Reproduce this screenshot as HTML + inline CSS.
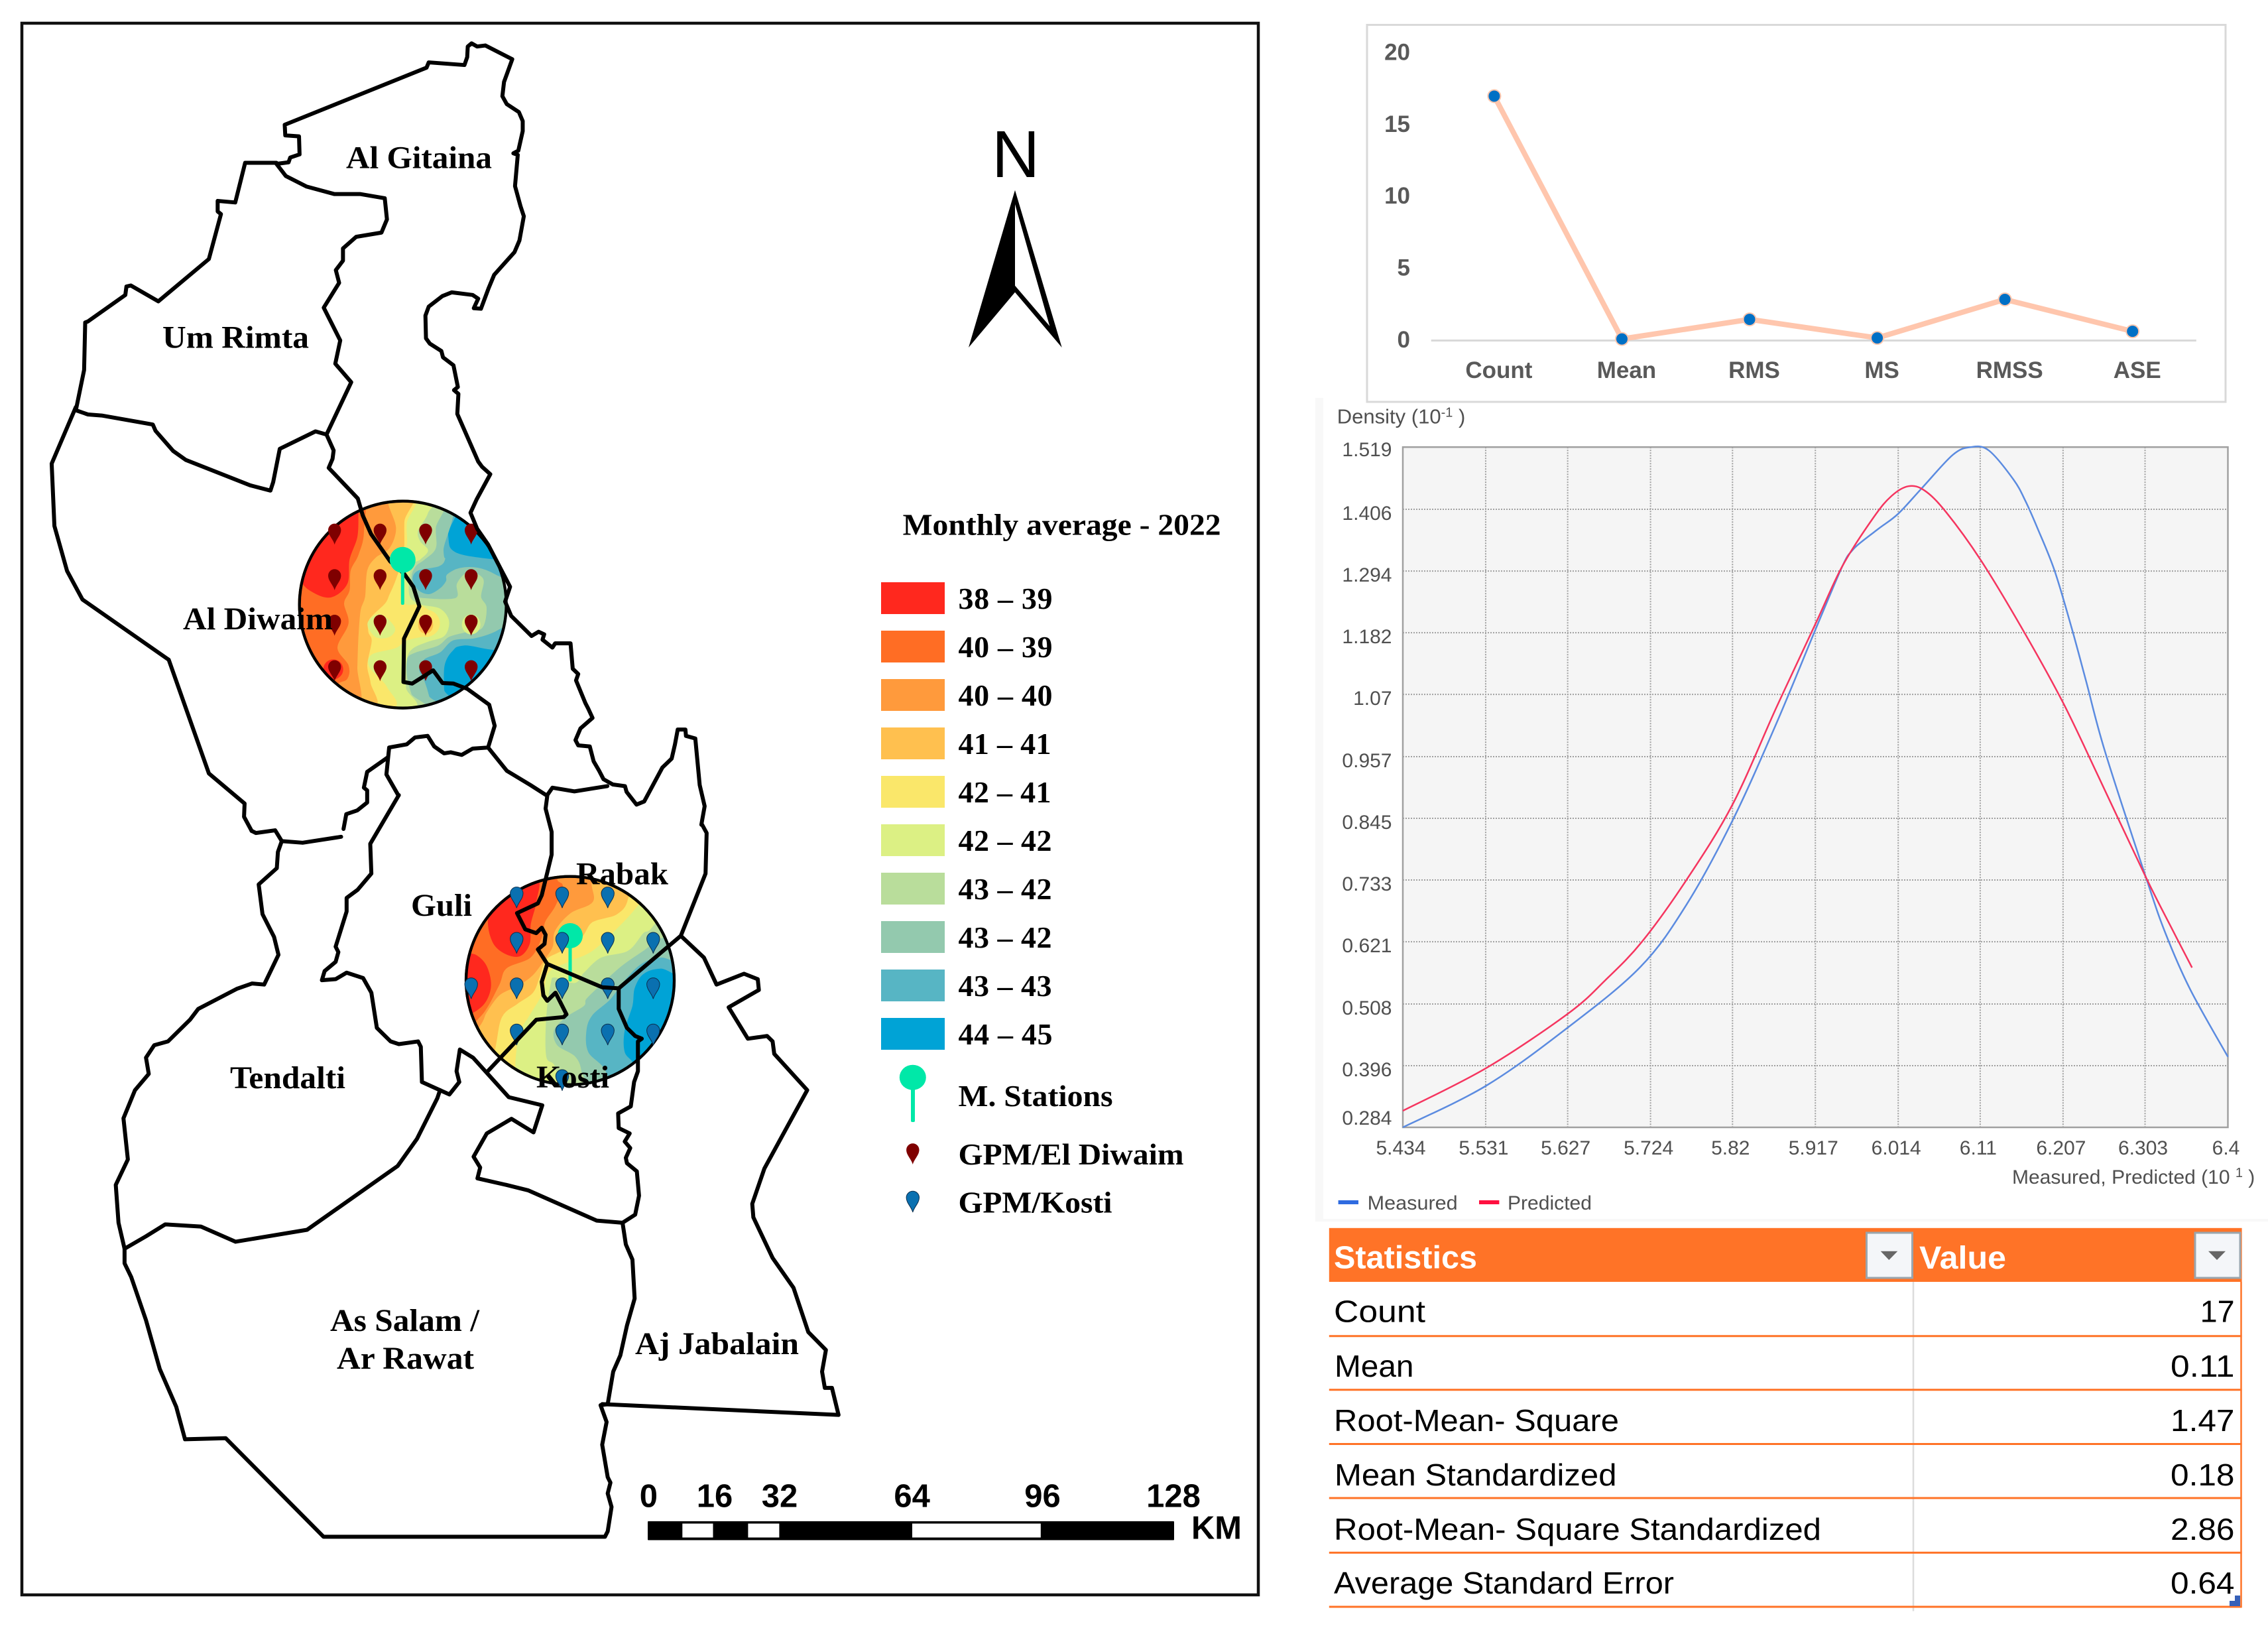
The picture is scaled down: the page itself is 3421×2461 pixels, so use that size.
<!DOCTYPE html>
<html lang="en">
<head>
<meta charset="utf-8">
<title>Monthly average 2022 map and validation statistics</title>
<style>
html,body{margin:0;padding:0;background:#fff;}
svg{display:block;}
.b{fill:none;stroke:#000;stroke-width:6;stroke-linejoin:round;stroke-linecap:round;vector-effect:non-scaling-stroke;}
.lab{font-family:"Liberation Serif",serif;font-weight:bold;font-size:48px;fill:#000;}
.leg{font-family:"Liberation Serif",serif;font-weight:bold;font-size:46px;fill:#000;}
.sb{font-family:"Liberation Sans",sans-serif;font-weight:bold;font-size:49px;fill:#000;text-anchor:middle;}
.c1{font-family:"Liberation Sans",sans-serif;font-weight:bold;font-size:35px;fill:#595959;}
.c2{font-family:"Liberation Sans",sans-serif;font-size:30px;fill:#505050;}
.tb{font-family:"Liberation Sans",sans-serif;font-size:46px;fill:#000;}
.th{font-family:"Liberation Sans",sans-serif;font-size:48px;font-weight:bold;fill:#fff;}
</style>
</head>
<body>
<svg id="root" xmlns="http://www.w3.org/2000/svg" width="3421" height="2461" viewBox="0 0 3421 2461">
<defs>
<clipPath id="clipA"><circle cx="623" cy="575" r="474"/></clipPath>
<clipPath id="clipB"><circle cx="540" cy="536" r="477"/></clipPath>
<path id="pin" d="M0,22 C-2,14 -9.7,8 -9.7,0 A9.7,9.7 0 1 1 9.7,0 C9.7,8 2,14 0,22Z"/>
</defs>
<rect width="3421" height="2461" fill="#fff"/>
<rect x="33" y="35" width="1865" height="2370" fill="#fff" stroke="#111" stroke-width="4.5"/>

<!-- Diwaim interpolation circle -->
<g transform="translate(400,720) scale(0.33333)">
<g clip-path="url(#clipA)" stroke-width="4" stroke-linejoin="round">
<rect x="100" y="50" width="1050" height="1050" fill="#00a3d6"/>
<polygon fill="#57b5c4" stroke="#57b5c4" points="100,50 830,50 826,260 860,340 1030,372 1120,372 1120,750 900,758 845,785 810,850 808,960 818,1050 100,1050"/>
<polygon fill="#93c9ae" stroke="#93c9ae" points="100,50 800,50 805,330 812,370 785,400 690,420 665,460 690,510 740,530 790,505 820,470 825,440 880,412 960,410 1040,440 1100,490 1100,640 1050,690 950,725 850,735 790,790 720,820 695,870 720,925 740,990 750,1050 100,1050"/>
<polygon fill="#b9dd9b" stroke="#b9dd9b" points="100,50 775,50 770,230 770,320 720,370 680,400 660,450 670,530 690,545 860,548 870,480 920,430 985,460 975,540 1000,590 980,680 900,700 830,720 780,760 680,790 640,820 640,900 660,980 690,1050 100,1050"/>
<polygon fill="#dcf084" stroke="#dcf084" points="100,50 745,50 735,160 690,240 700,290 735,330 700,370 660,400 650,530 700,575 790,595 830,650 810,715 740,740 670,770 640,820 635,950 650,1050 100,1050"/>
<polygon fill="#fae76a" stroke="#fae76a" points="100,50 680,50 680,120 640,200 640,300 625,370 625,560 700,578 760,620 770,670 740,710 640,735 590,770 480,800 470,860 550,950 560,1050 100,1050"/>
<polygon fill="#ffc04f" stroke="#ffc04f" points="100,50 640,50 628,200 625,340 590,460 560,530 540,570 470,640 465,700 480,740 460,850 475,930 480,1050 100,1050"/>
<polygon fill="#ff9a3c" stroke="#ff9a3c" points="100,50 555,50 555,120 590,230 560,320 500,360 460,420 450,540 430,600 420,720 415,860 410,1050 100,1050"/>
<polygon fill="#ff6d24" stroke="#ff6d24" points="100,50 420,50 445,240 420,350 385,420 380,510 355,570 375,660 325,770 375,850 370,910 320,940 260,1050 100,1050"/>
<polygon fill="#ff281e" stroke="#ff281e" points="420,100 420,165 415,270 380,370 370,480 300,540 220,520 160,460 120,300 300,100"/>
<circle cx="308" cy="868" r="45" fill="#ff281e"/>
<polygon fill="#dcf084" stroke="#dcf084" points="465,660 520,620 585,680 560,720 500,720"/>
<ellipse cx="726" cy="660" rx="65" ry="62" fill="#fae76a"/>
<ellipse cx="726" cy="668" rx="34" ry="38" fill="#ffc04f"/>
<ellipse cx="932" cy="665" rx="42" ry="45" fill="#dcf084"/>
</g>
<circle cx="623" cy="575" r="468" fill="none" stroke="#000" stroke-width="13"/>
</g>

<!-- Kosti interpolation circle -->
<g transform="translate(680,1300) scale(0.33333)">
<g clip-path="url(#clipB)" stroke-width="4" stroke-linejoin="round">
<rect x="0" y="0" width="1100" height="1100" fill="#00a3d6"/>
<polygon fill="#57b5c4" stroke="#57b5c4" points="0,0 1100,0 1100,490 950,480 870,505 830,570 820,650 785,760 785,860 830,930 830,1100 0,1100"/>
<polygon fill="#93c9ae" stroke="#93c9ae" points="0,0 1100,0 1100,430 950,430 860,460 780,540 720,620 640,690 612,760 620,860 700,950 700,1100 0,1100"/>
<polygon fill="#b9dd9b" stroke="#b9dd9b" points="0,0 1100,0 1100,330 960,340 870,400 770,470 660,570 610,620 600,650 520,700 465,760 480,830 560,880 590,950 600,1100 0,1100"/>
<polygon fill="#dcf084" stroke="#dcf084" points="0,0 1100,0 920,280 870,320 800,400 680,430 600,500 560,545 470,520 450,550 430,700 430,880 470,930 480,1100 0,1100"/>
<polygon fill="#fae76a" stroke="#fae76a" points="0,0 1000,0 850,190 760,290 640,400 530,450 440,500 415,590 350,700 310,770 290,910 290,1100 0,1100"/>
<polygon fill="#ffc04f" stroke="#ffc04f" points="0,0 800,0 800,165 750,235 640,270 590,340 500,400 430,440 400,520 370,590 300,640 230,700 200,840 150,1100 0,1100"/>
<polygon fill="#ff9a3c" stroke="#ff9a3c" points="0,0 635,0 635,100 640,180 540,230 470,310 460,380 430,430 370,510 300,560 220,600 160,680 130,740 0,900"/>
<polygon fill="#ff6d24" stroke="#ff6d24" points="0,0 480,0 480,80 505,110 470,200 425,270 410,340 360,430 250,480 215,560 130,700 0,760"/>
<polygon fill="#ff281e" stroke="#ff281e" points="170,260 190,360 240,410 310,425 355,370 360,280 385,180 385,70 200,90"/>
<polygon fill="#ff281e" stroke="#ff281e" points="60,420 110,420 160,470 180,560 150,640 80,690 30,690 30,420"/>
</g>
<circle cx="540" cy="536" r="471" fill="none" stroke="#000" stroke-width="13"/>
</g>

<!-- GPM pins Diwaim -->
<g fill="#7f0000">
<use href="#pin" x="504.7" y="799.3"/><use href="#pin" x="573.3" y="799.3"/><use href="#pin" x="642" y="799.3"/><use href="#pin" x="710.7" y="799.3"/>
<use href="#pin" x="504.7" y="868"/><use href="#pin" x="573.3" y="868"/><use href="#pin" x="642" y="868"/><use href="#pin" x="710.7" y="868"/>
<use href="#pin" x="504.7" y="936.7"/><use href="#pin" x="573.3" y="936.7"/><use href="#pin" x="642" y="936.7"/><use href="#pin" x="710.7" y="936.7"/>
<use href="#pin" x="504.7" y="1005.3"/><use href="#pin" x="573.3" y="1005.3"/><use href="#pin" x="642" y="1005.3"/><use href="#pin" x="710.7" y="1005.3"/>
</g>

<!-- Station Kosti -->
<g fill="#00e8a8">
<circle cx="860" cy="1411" r="19"/>
<rect x="857.5" y="1420" width="5" height="60" rx="2"/>
</g>

<!-- GPM pins Kosti -->
<g fill="#0a70b0" stroke="#0c2f4e" stroke-width="1">
<use href="#pin" x="779.3" y="1347.3"/><use href="#pin" x="848" y="1347.3"/><use href="#pin" x="916.7" y="1347.3"/>
<use href="#pin" x="779.3" y="1415.7"/><use href="#pin" x="848" y="1415.7"/><use href="#pin" x="916.7" y="1415.7"/><use href="#pin" x="985.3" y="1415.7"/>
<use href="#pin" x="710.7" y="1484.3"/><use href="#pin" x="779.3" y="1484.3"/><use href="#pin" x="848" y="1484.3"/><use href="#pin" x="916.7" y="1484.3"/><use href="#pin" x="985.3" y="1484.3"/>
<use href="#pin" x="779.3" y="1554"/><use href="#pin" x="848" y="1554"/><use href="#pin" x="916.7" y="1554"/><use href="#pin" x="985.3" y="1554"/>
<use href="#pin" x="848" y="1622.7"/>
</g>

<!-- Boundaries (north part) -->
<g transform="scale(0.82908,0.79719)">
<polyline class="b" points="503,310 525,307 528,298 545,292 544,258 519,256 518,236 776,128 780,118 845,123 850,108 851,88 858,82 868,88 883,86 932,112 917,155 914,182 922,197 944,212 951,229 951,248 943,285 934,290 942,293 937,352 947,390 953,409 945,455 936,477 899,520 889,545 875,584 862,583 870,565 860,558 822,553 805,560 780,580 774,597 775,640 782,650 803,664 806,676 825,691 833,732 826,738 834,745 832,783 870,873 877,883 892,897 867,945 856,970 868,1000 888,1030 928,1110 919,1138 930,1165 967,1203 980,1195 990,1200 987,1210 1005,1225 1010,1217 1038,1217 1042,1265 1052,1275 1048,1287 1065,1330 1070,1340 1078,1358 1056,1378 1047,1400 1052,1410 1073,1412 1080,1440 1090,1458 1098,1474 1115,1484 1137,1487 1140,1498 1158,1522 1172,1516 1205,1452 1222,1435 1228,1408 1233,1380 1247,1380 1248,1392 1265,1397 1273,1485 1282,1525 1276,1560"/>
<polyline class="b" points="138,776 153,700 155,610 160,608 228,558 230,542 238,540 288,570 380,490 402,405 396,400 396,380 428,383 446,308 503,308"/>
<polyline class="b" points="503,310 520,333 558,353 608,367 655,367 700,375 704,415 694,440 648,448 624,470 624,493 611,511 617,535 589,582 619,644 610,688 639,723 594,822 574,816 509,849 497,912 492,928 455,918 338,870 315,853 283,815 278,803 185,786 160,784 138,776"/>
<polyline class="b" points="138,770 94,877 99,995 122,1080 150,1134 307,1248 380,1463 445,1520 444,1545 458,1572"/>
<polyline class="b" points="594,822 607,852 605,868 598,885 651,943 660,975 675,1010 710,1062 735,1085 752,1110 763,1147 735,1208 734,1290 750,1293 788,1268 805,1292 825,1293 850,1303 890,1333 900,1373 888,1414 860,1416 840,1428 820,1423 808,1425 790,1412 778,1392 755,1395 740,1408 708,1414 703,1465 725,1505"/>
<polyline class="b" points="705,1433 668,1460 662,1490 668,1495 668,1518 650,1533 630,1540 625,1568"/>
<polyline class="b" points="888,1414 922,1458 965,1485 995,1505 1005,1490 1045,1497 1105,1487"/>
</g>

<!-- Boundaries (south part) -->
<g transform="translate(100,1150) scale(0.82908,0.81633)">
<polyline class="b" points="1157,115 1165,130 1163,205 1118,320 1160,360 1183,410 1233,390 1258,400 1260,420 1205,452 1240,510 1275,505 1285,515 1288,538 1348,605 1270,750 1248,815 1250,840 1285,915 1323,970 1350,1052 1382,1085 1375,1125 1380,1155 1393,1155 1405,1205 975,1185"/>
<polyline class="b" points="500,137 430,148 392,145 380,125 345,130 337,126"/>
<polyline class="b" points="605,60 553,150 555,205 530,235 510,250 510,275 490,340 495,350 490,368 470,385 465,402 490,400 510,388 540,398 555,425 565,490 590,515 605,520 640,515 645,525 647,590 697,613 715,590 710,570 716,530 740,545 805,618 866,633 850,683 810,658 765,685 741,728 753,748 748,768 800,780 840,790 965,846 1012,850 1035,835 1042,800 1038,755 1020,740 1018,730 1026,712 1016,700 1025,685 1005,675 1004,648 1027,635 1033,590 1040,570 1040,515 1047,510 1035,505 1020,490 1005,455 1005,418"/>
<polyline class="b" points="875,62 872,85 883,128 883,170 865,245 858,260 820,278 835,308 855,315 865,305 872,318 870,335 858,345 875,372 865,405 868,430 875,440 890,425 900,445 910,465 905,470 855,475 790,545 765,572"/>
<polyline class="b" points="875,372 975,415 1005,417 1118,320"/>
<polyline class="b" points="1012,850 1018,890 1030,918 1034,990 1020,1040 1008,1095 995,1125 985,1185 972,1187 983,1218 975,1260 985,1320 990,1330 985,1350 992,1375 985,1420 980,1430 468,1430 290,1248 216,1250 200,1190 170,1120 145,1030 118,950 106,925 106,898"/>
<polyline class="b" points="392,145 385,165 383,195 350,225 357,280 378,322 386,355 360,410 338,408 310,418 240,455 225,475 185,515 160,522 145,545 150,575 125,605 104,657 112,733 90,780 95,850 106,898 145,875 180,853 245,857 308,885 438,863 603,745 638,695 675,620 680,605"/>
</g>

<!-- Station Diwaim -->
<g fill="#00e8a8">
<circle cx="607.3" cy="844.3" r="19.5"/>
<rect x="604.8" y="855" width="5" height="57" rx="2"/>
</g>

<!-- Map labels -->
<text class="lab" x="522" y="253.5" textLength="220" lengthAdjust="spacingAndGlyphs">Al Gitaina</text>
<text class="lab" x="245" y="524.6" textLength="221" lengthAdjust="spacingAndGlyphs">Um Rimta</text>
<text class="lab" x="276" y="949" textLength="226" lengthAdjust="spacingAndGlyphs">Al Diwaim</text>
<text class="lab" x="869" y="1333.7" textLength="139" lengthAdjust="spacingAndGlyphs">Rabak</text>
<text class="lab" x="620" y="1381" textLength="92" lengthAdjust="spacingAndGlyphs">Guli</text>
<text class="lab" x="347" y="1641" textLength="174" lengthAdjust="spacingAndGlyphs">Tendalti</text>
<text class="lab" x="809" y="1640" textLength="110" lengthAdjust="spacingAndGlyphs">Kosti</text>
<text class="lab" x="498" y="2007" textLength="225" lengthAdjust="spacingAndGlyphs">As Salam /</text>
<text class="lab" x="508" y="2064" textLength="207" lengthAdjust="spacingAndGlyphs">Ar Rawat</text>
<text class="lab" x="958" y="2042" textLength="247" lengthAdjust="spacingAndGlyphs">Aj Jabalain</text>

<!-- North arrow -->
<g>
<text x="1496" y="267" font-family="'Liberation Sans',sans-serif" font-size="100" fill="#000">N</text>
<path fill-rule="evenodd" d="M1531,286.7 L1601.7,524 L1531,440.7 L1461,524 Z M1531,308 L1531,430.7 L1583.3,491.7 Z" fill="#000"/>
</g>

<!-- Legend -->
<g>
<text class="leg" x="1361.6" y="806.6" textLength="480" lengthAdjust="spacingAndGlyphs">Monthly average - 2022</text>
<rect x="1329" y="878" width="96" height="48" fill="#ff281e"/>
<rect x="1329" y="951" width="96" height="48" fill="#ff6d24"/>
<rect x="1329" y="1024" width="96" height="48" fill="#ff9a3c"/>
<rect x="1329" y="1097" width="96" height="48" fill="#ffc04f"/>
<rect x="1329" y="1170" width="96" height="48" fill="#fae76a"/>
<rect x="1329" y="1243" width="96" height="48" fill="#dcf084"/>
<rect x="1329" y="1316" width="96" height="48" fill="#b9dd9b"/>
<rect x="1329" y="1389" width="96" height="48" fill="#93c9ae"/>
<rect x="1329" y="1462" width="96" height="48" fill="#57b5c4"/>
<rect x="1329" y="1535" width="96" height="48" fill="#00a3d6"/>
<text class="leg" x="1445.5" y="918" textLength="142">38 – 39</text>
<text class="leg" x="1445.5" y="991" textLength="142">40 – 39</text>
<text class="leg" x="1445.5" y="1064" textLength="142">40 – 40</text>
<text class="leg" x="1445.5" y="1137" textLength="140">41 – 41</text>
<text class="leg" x="1445.5" y="1210" textLength="140">42 – 41</text>
<text class="leg" x="1445.5" y="1283" textLength="141">42 – 42</text>
<text class="leg" x="1445.5" y="1356" textLength="141">43 – 42</text>
<text class="leg" x="1445.5" y="1429" textLength="141">43 – 42</text>
<text class="leg" x="1445.5" y="1502" textLength="141">43 – 43</text>
<text class="leg" x="1445.5" y="1575" textLength="142">44 – 45</text>
<g fill="#00e8a8">
<ellipse cx="1376.8" cy="1624.7" rx="20" ry="19"/>
<rect x="1374" y="1640" width="6" height="52" rx="2"/>
</g>
<use href="#pin" transform="translate(1376.8,1734)" fill="#7f0000"/>
<use href="#pin" transform="translate(1376.8,1806)" fill="#0a70b0" stroke="#0c2f4e" stroke-width="1"/>
<text class="leg" x="1445.5" y="1668" textLength="233" lengthAdjust="spacingAndGlyphs">M. Stations</text>
<text class="leg" x="1445.5" y="1756" textLength="340" lengthAdjust="spacingAndGlyphs">GPM/El Diwaim</text>
<text class="leg" x="1445.5" y="1828.6" textLength="232" lengthAdjust="spacingAndGlyphs">GPM/Kosti</text>
</g>

<!-- Scale bar -->
<g>
<rect x="977" y="2294" width="794" height="28.5" fill="#000" rx="1"/>
<rect x="1029.3" y="2297.5" width="46.2" height="21" fill="#fff"/>
<rect x="1128.4" y="2297.5" width="47" height="21" fill="#fff"/>
<rect x="1376" y="2297.5" width="193.8" height="21" fill="#fff"/>
<text class="sb" x="978.4" y="2272.7">0</text>
<text class="sb" x="1078" y="2272.7">16</text>
<text class="sb" x="1176" y="2272.7">32</text>
<text class="sb" x="1375.6" y="2272.7">64</text>
<text class="sb" x="1572.5" y="2272.7">96</text>
<text class="sb" x="1770" y="2272.7">128</text>
<text class="sb" x="1835" y="2320.7" textLength="76" lengthAdjust="spacingAndGlyphs">KM</text>
</g>

<!-- Statistics line chart frame -->
<rect x="2062" y="37.5" width="1295" height="568.5" fill="#fff" stroke="#d9d9d9" stroke-width="3"/>
<g id="chart1"></g>

<!-- Density chart -->
<rect x="1984" y="600" width="12" height="1240" fill="#f8f8f8"/>
<rect x="1984" y="1838" width="1437" height="4" fill="#f8f8f8"/>
<g id="chart2"></g>

<!-- Statistics table -->
<g>
<rect x="2004.8" y="1851.8" width="1376.8" height="81.2" fill="#ff7327"/>
<text class="th" x="2012" y="1912.6" textLength="216" lengthAdjust="spacingAndGlyphs">Statistics</text>
<text class="th" x="2895" y="1913" textLength="131" lengthAdjust="spacingAndGlyphs">Value</text>
<g>
<rect x="2815.5" y="1859" width="69" height="68" fill="#f4f6f9" stroke="#9aa5ad" stroke-width="3"/>
<polygon points="2836.7,1886.7 2862.3,1886.7 2849.3,1900" fill="#666"/>
</g>
<g>
<rect x="3311" y="1859" width="68" height="68" fill="#f4f6f9" stroke="#9aa5ad" stroke-width="3"/>
<polygon points="3331,1886.7 3357,1886.7 3344,1900" fill="#666"/>
</g>
<line x1="2886" y1="1933" x2="2886" y2="2429.5" stroke="#dcdcdc" stroke-width="2.5"/>
<line x1="3380.5" y1="1933" x2="3380.5" y2="2424" stroke="#ff7327" stroke-width="2.5"/>
<g stroke="#ff7327" stroke-width="3">
<line x1="2004.8" y1="2014.7" x2="3381.6" y2="2014.7"/>
<line x1="2004.8" y1="2095.8" x2="3381.6" y2="2095.8"/>
<line x1="2004.8" y1="2177.5" x2="3381.6" y2="2177.5"/>
<line x1="2004.8" y1="2259" x2="3381.6" y2="2259"/>
<line x1="2004.8" y1="2341.4" x2="3381.6" y2="2341.4"/>
<line x1="2004.8" y1="2423" x2="3381.6" y2="2423"/>
</g>
<text class="tb" x="2012" y="1993.7" textLength="138" lengthAdjust="spacingAndGlyphs">Count</text>
<text class="tb" x="2013" y="2076" textLength="119.5" lengthAdjust="spacingAndGlyphs">Mean</text>
<text class="tb" x="2012" y="2158" textLength="430" lengthAdjust="spacingAndGlyphs">Root-Mean- Square</text>
<text class="tb" x="2013" y="2240" textLength="425.5" lengthAdjust="spacingAndGlyphs">Mean Standardized</text>
<text class="tb" x="2012" y="2322" textLength="735" lengthAdjust="spacingAndGlyphs">Root-Mean- Square Standardized</text>
<text class="tb" x="2012" y="2403" textLength="513" lengthAdjust="spacingAndGlyphs">Average Standard Error</text>
<text class="tb" x="3318.6" y="1993.7" textLength="52" lengthAdjust="spacingAndGlyphs">17</text>
<text class="tb" x="3274" y="2076" textLength="96.5" lengthAdjust="spacingAndGlyphs">0.11</text>
<text class="tb" x="3274" y="2158" textLength="96.5" lengthAdjust="spacingAndGlyphs">1.47</text>
<text class="tb" x="3274" y="2240" textLength="96.5" lengthAdjust="spacingAndGlyphs">0.18</text>
<text class="tb" x="3274" y="2322" textLength="96.5" lengthAdjust="spacingAndGlyphs">2.86</text>
<text class="tb" x="3274" y="2403" textLength="96.5" lengthAdjust="spacingAndGlyphs">0.64</text>
<polygon points="3379,2406 3379,2422 3363,2422 3363,2414 3371,2414 3371,2406" fill="#3560b8"/>
</g>

<script>
var statCategories = ["Count", "Mean", "RMS", "MS", "RMSS", "ASE"];
var statValues = [17, 0.11, 1.47, 0.18, 2.86, 0.64];
var statTicks = [0, 5, 10, 15, 20];

var densityYTicks = [0.284, 0.396, 0.508, 0.621, 0.733, 0.845, 0.957, 1.07, 1.182, 1.294, 1.406, 1.519];
var densityXTicks = [5.434, 5.531, 5.627, 5.724, 5.82, 5.917, 6.014, 6.11, 6.207, 6.303, 6.4];
var measuredX = [5.434, 5.532, 5.627, 5.712, 5.766, 5.82, 5.871, 5.918, 5.949, 5.96, 5.971, 5.992, 6.014, 6.042, 6.078, 6.099, 6.12, 6.149, 6.163, 6.177, 6.197, 6.217, 6.234, 6.256, 6.304, 6.327, 6.356, 6.4];
var measuredY = [0.284, 0.36, 0.465, 0.575, 0.688, 0.841, 1.016, 1.191, 1.304, 1.331, 1.347, 1.372, 1.398, 1.445, 1.505, 1.519, 1.513, 1.46, 1.421, 1.372, 1.295, 1.191, 1.094, 0.967, 0.738, 0.636, 0.534, 0.412];
var predictedX = [5.434, 5.532, 5.627, 5.671, 5.714, 5.766, 5.82, 5.871, 5.918, 5.949, 5.985, 6.006, 6.026, 6.045, 6.07, 6.111, 6.16, 6.207, 6.249, 6.304, 6.334, 6.358];
var predictedY = [0.314, 0.392, 0.49, 0.551, 0.621, 0.733, 0.87, 1.045, 1.201, 1.304, 1.391, 1.43, 1.448, 1.44, 1.401, 1.313, 1.187, 1.055, 0.919, 0.738, 0.646, 0.574];

var NS = "http://www.w3.org/2000/svg";
function mk(parent, tag, attrs, text) {
  var el = document.createElementNS(NS, tag);
  for (var k in attrs) { el.setAttribute(k, attrs[k]); }
  if (text !== undefined) { el.textContent = text; }
  parent.appendChild(el);
  return el;
}
function spline(P, closed) {
  var n = P.length, d = "M" + P[0][0] + "," + P[0][1];
  var last = closed ? n : n - 1;
  for (var i = 0; i < last; i++) {
    var p0 = closed ? P[(i - 1 + n) % n] : P[Math.max(0, i - 1)];
    var p1 = P[i];
    var p2 = closed ? P[(i + 1) % n] : P[i + 1];
    var p3 = closed ? P[(i + 2) % n] : P[Math.min(n - 1, i + 2)];
    d += " C" + (p1[0] + (p2[0] - p0[0]) / 6) + "," + (p1[1] + (p2[1] - p0[1]) / 6) + " " +
         (p2[0] - (p3[0] - p1[0]) / 6) + "," + (p2[1] - (p3[1] - p1[1]) / 6) + " " + p2[0] + "," + p2[1];
  }
  return d + (closed ? "Z" : "");
}

/* smooth the hand-traced temperature contours */
Array.prototype.slice.call(document.querySelectorAll('g[clip-path] polygon')).forEach(function (poly) {
  var P = poly.getAttribute('points').trim().split(/\s+/).map(function (s) { return s.split(',').map(Number); });
  var path = document.createElementNS(NS, 'path');
  path.setAttribute('d', spline(P, true));
  path.setAttribute('fill', poly.getAttribute('fill'));
  path.setAttribute('stroke', poly.getAttribute('stroke'));
  
  
  poly.parentNode.replaceChild(path, poly);
});

/* ---------- statistics line chart ---------- */
(function () {
  var g = document.getElementById("chart1");
  function sx(i) { return 2253.9 + i * 192.56; }
  function sy(v) { return 513.5 - v * 21.68; }
  statTicks.forEach(function (t) {
    var el = mk(g, "text", { "class": "c1", x: 2127, y: sy(t) + 10.5, "text-anchor": "end" }, String(t));
    
    
  });
  var base = mk(g, "line", { x1: 2158.7, x2: 3312.8, y1: sy(0), y2: sy(0), stroke: "#d9d9d9", "stroke-width": 3 });
  
  
  var pts = statValues.map(function (v, i) { return sx(i) + "," + sy(v); }).join(" ");
  var line = mk(g, "polyline", { points: pts, fill: "none", stroke: "#ffc6ad", "stroke-width": 8, "stroke-linejoin": "round" });
  
  
  statValues.forEach(function (v, i) {
    var c = mk(g, "circle", { cx: sx(i), cy: sy(v), r: 9.5, fill: "#0070c5", stroke: "#ffc6ad", "stroke-width": 2 });
    
    
  });
  statCategories.forEach(function (name, i) {
    var t = mk(g, "text", { "class": "c1", x: sx(i) + 7, y: 570, "text-anchor": "middle" }, name);
    
    
  });
})();

/* ---------- density chart ---------- */
(function () {
  var g = document.getElementById("chart2");
  var L = 2116, R = 3360.5, T = 674.2, B = 1700;
  var x0 = densityXTicks[0], x1 = densityXTicks[densityXTicks.length - 1];
  var y0 = densityYTicks[0], y1 = densityYTicks[densityYTicks.length - 1];
  function sx(v) { return L + (v - x0) / (x1 - x0) * (R - L); }
  function sy(v) { return B - (v - y0) / (y1 - y0) * (B - T); }
  var bg = mk(g, "rect", { x: L, y: T, width: R - L, height: B - T, fill: "#f5f5f5" });
  
  
  densityYTicks.forEach(function (v, i) {
    if (i > 0 && i < densityYTicks.length - 1) {
      var ln = mk(g, "line", { x1: L, x2: R, y1: sy(v), y2: sy(v), stroke: "#a0a0a0", "stroke-width": 2, "stroke-dasharray": "2 2" });
      
      
    }
    var off = i === 0 ? -4 : (i === densityYTicks.length - 1 ? 14 : 16);
    var t = mk(g, "text", { "class": "c2", x: 2099.5, y: sy(v) + off, "text-anchor": "end" }, String(v));
    
    
  });
  densityXTicks.forEach(function (v, i) {
    if (i > 0 && i < densityXTicks.length - 1) {
      var ln = mk(g, "line", { x1: sx(v), x2: sx(v), y1: T, y2: B, stroke: "#a0a0a0", "stroke-width": 2, "stroke-dasharray": "2 2" });
      
      
    }
    var t = mk(g, "text", { "class": "c2", x: sx(v) - 3, y: 1741, "text-anchor": "middle" }, String(v));
    
    
  });
  var frame = mk(g, "rect", { x: L, y: T, width: R - L, height: B - T, fill: "none", stroke: "#a0a0a0", "stroke-width": 2.5 });
  
  

  function smooth(xs, ys) {
    var P = xs.map(function (x, i) { return [sx(x), sy(ys[i])]; });
    return spline(P, false);
  }
  var m = mk(g, "path", { d: smooth(measuredX, measuredY), fill: "none", stroke: "#5b8be0", "stroke-width": 2.5 });
  
  
  var p = mk(g, "path", { d: smooth(predictedX, predictedY), fill: "none", stroke: "#f5355f", "stroke-width": 2.5 });
  
  

  var yt = mk(g, "text", { "class": "c2", x: 2016.8, y: 638.6, style: "font-size:31px" });
  
  
  mk(yt, "tspan", {}, "Density (10");
  mk(yt, "tspan", { dy: -10, style: "font-size:20px" }, "-1");
  mk(yt, "tspan", { dy: 10 }, " )");
  var xt = mk(g, "text", { "class": "c2", x: 3035, y: 1785, style: "font-size:30px" });
  
  
  mk(xt, "tspan", {}, "Measured, Predicted (10 ");
  mk(xt, "tspan", { dy: -10, style: "font-size:20px" }, "1");
  mk(xt, "tspan", { dy: 10 }, " )");

  var lm = mk(g, "rect", { x: 2018.6, y: 1810, width: 30.4, height: 6, fill: "#2f6be0" });
  
  
  var lmt = mk(g, "text", { "class": "c2", x: 2062.7, y: 1824, textLength: 136, lengthAdjust: "spacingAndGlyphs" }, "Measured");
  
  
  var lp = mk(g, "rect", { x: 2231, y: 1810, width: 30.4, height: 6, fill: "#ff1040" });
  
  
  var lpt = mk(g, "text", { "class": "c2", x: 2274, y: 1824, textLength: 127, lengthAdjust: "spacingAndGlyphs" }, "Predicted");
  
  
})();
</script>
</svg>
</body>
</html>
